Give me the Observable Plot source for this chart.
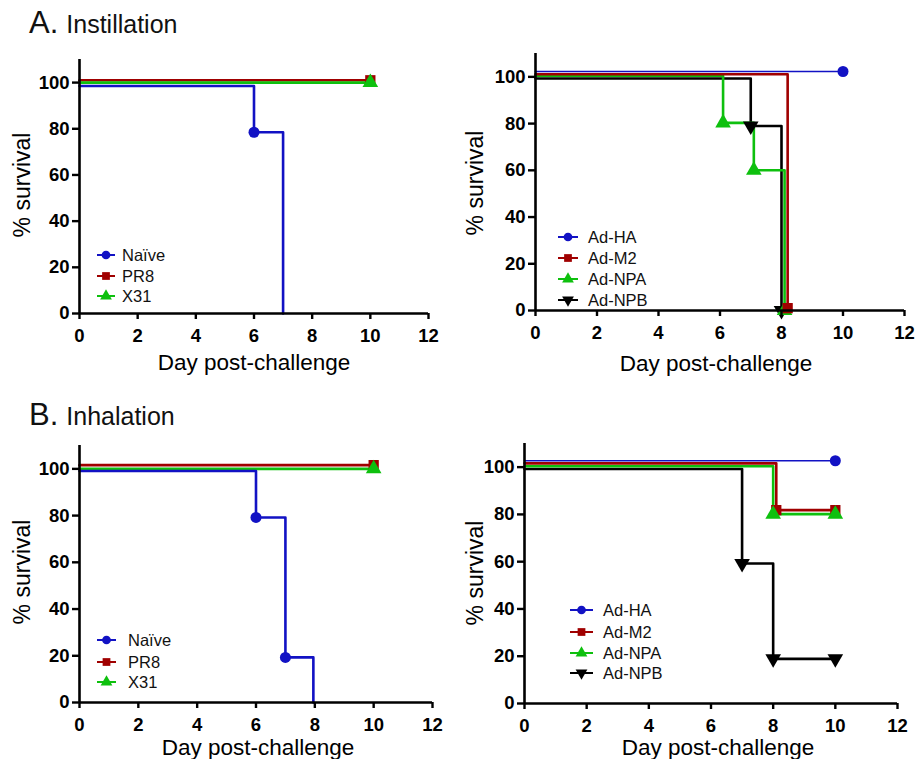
<!DOCTYPE html>
<html>
<head>
<meta charset="utf-8">
<script src="https://cdn.jsdelivr.net/npm/d3@7"></script>
<script src="https://cdn.jsdelivr.net/npm/@observablehq/plot@0.6"></script>
<style>
  html, body { margin: 0; padding: 0; background: #fff; }
  #root { position: relative; width: 919px; height: 759px; overflow: hidden; font-family: "Liberation Sans", Arial, Helvetica, sans-serif; }
  .panel { position: absolute; }
  #overlay { position: absolute; left: 0; top: 0; }
  .panel g[aria-label="x-axis tick"] path, .panel g[aria-label="y-axis tick"] path { stroke-width: 2.4px; }
</style>
</head>
<body>
<div id="root"></div>
<script>
// ---------- tick labels ----------
const xTicks = [0, 2, 4, 6, 8, 10, 12];
const yTicks = [0, 20, 40, 60, 80, 100];

// ---------- colours ----------
const blue = "#1212c4", red = "#a00000", green = "#0ec00e", black = "#000000";

// ---------- A. Instillation, left ----------
const A_left_names = ["Naïve", "PR8", "X31"];
const A_naive_day = [0, 6, 7];
const A_naive_surv = [98.5, 78.5, 0];
const A_naive_mark = [6];
const A_pr8_day = [0, 10];
const A_pr8_surv = [101, 101];
const A_pr8_mark = [10];
const A_x31_day = [0, 10];
const A_x31_surv = [100, 100];
const A_x31_mark = [10];

// ---------- A. Instillation, right ----------
const A_right_names = ["Ad-HA", "Ad-M2", "Ad-NPA", "Ad-NPB"];
const A_ha_day = [0, 10];
const A_ha_surv = [102.3, 102.3];
const A_ha_mark = [10];
const A_m2_day = [0, 8.2];
const A_m2_surv = [101.1, 1];
const A_m2_mark = [8.2];
const A_npa_day = [0, 6.1, 7.1, 8.1];
const A_npa_surv = [100.5, 80.3, 60, 0];
const A_npa_mark = [6.1, 7.1, 8.1];
const A_npb_day = [0, 7, 8];
const A_npb_surv = [99.3, 79, 0];
const A_npb_mark = [7, 8];

// ---------- B. Inhalation, left ----------
const B_naive_day = [0, 6, 7, 7.95];
const B_naive_surv = [99.1, 79.2, 19.3, 0];
const B_naive_mark = [6, 7];
const B_pr8_day = [0, 10];
const B_pr8_surv = [101.6, 101.6];
const B_pr8_mark = [10];
const B_x31_day = [0, 10];
const B_x31_surv = [100, 100];
const B_x31_mark = [10];

// ---------- B. Inhalation, right ----------
const B_ha_day = [0, 10];
const B_ha_surv = [102.7, 102.7];
const B_ha_mark = [10];
const B_m2_day = [0, 8.1, 10];
const B_m2_surv = [101.6, 81.8, 81.8];
const B_m2_mark = [8.1, 10];
const B_npa_day = [0, 8, 10];
const B_npa_surv = [100.4, 80.1, 80.1];
const B_npa_mark = [8, 10];
const B_npb_day = [0, 7, 8, 10];
const B_npb_surv = [99.2, 59.2, 18.9, 18.9];
const B_npb_mark = [7, 8, 10];

// inverted triangle symbol
const triangleDown = {
  draw(context, size) {
    const s3 = Math.sqrt(3);
    const y = -Math.sqrt(size / (s3 * 3));
    context.moveTo(0, -y * 2);
    context.lineTo(-s3 * y, y);
    context.lineTo(s3 * y, y);
    context.closePath();
  }
};

function series(name, day, surv, mark, color, symbol, width) {
  const pts = day.map((d, i) => ({day: d, surv: surv[i]}));
  const marks = pts.filter(p => mark.includes(p.day));
  return {name, pts, marks, color, symbol, width};
}

const panels = [
  {
    left: 0, top: 40, width: 460, height: 340,
    mL: 79, mR: 32, mT: 19, mB: 67,
    series: [
      series(A_left_names[1], A_pr8_day, A_pr8_surv, A_pr8_mark, red, "square", 2.6),
      series(A_left_names[2], A_x31_day, A_x31_surv, A_x31_mark, green, "triangle", 2.6),
      series(A_left_names[0], A_naive_day, A_naive_surv, A_naive_mark, blue, "circle", 2.6)
    ]
  },
  {
    left: 460, top: 40, width: 459, height: 340,
    mL: 75, mR: 15, mT: 13, mB: 70,
    series: [
      series(A_right_names[0], A_ha_day, A_ha_surv, A_ha_mark, blue, "circle", 1.7),
      series(A_right_names[3], A_npb_day, A_npb_surv, A_npb_mark, black, triangleDown, 2.6),
      series(A_right_names[2], A_npa_day, A_npa_surv, A_npa_mark, green, "triangle", 2.6),
      series(A_right_names[1], A_m2_day, A_m2_surv, A_m2_mark, red, "square", 2.6)
    ]
  },
  {
    left: 0, top: 430, width: 460, height: 329,
    mL: 79, mR: 28, mT: 15, mB: 57,
    series: [
      series(A_left_names[1], B_pr8_day, B_pr8_surv, B_pr8_mark, red, "square", 2.6),
      series(A_left_names[2], B_x31_day, B_x31_surv, B_x31_mark, green, "triangle", 2.6),
      series(A_left_names[0], B_naive_day, B_naive_surv, B_naive_mark, blue, "circle", 2.6)
    ]
  },
  {
    left: 460, top: 430, width: 459, height: 329,
    mL: 64, mR: 22, mT: 13, mB: 56,
    series: [
      series(A_right_names[0], B_ha_day, B_ha_surv, B_ha_mark, blue, "circle", 1.7),
      series(A_right_names[3], B_npb_day, B_npb_surv, B_npb_mark, black, triangleDown, 2.6),
      series(A_right_names[1], B_m2_day, B_m2_surv, B_m2_mark, red, "square", 2.6),
      series(A_right_names[2], B_npa_day, B_npa_surv, B_npa_mark, green, "triangle", 2.6)
    ]
  }
];

const root = document.getElementById("root");

for (const p of panels) {
  const marks = [];
  for (const s of p.series) {
    marks.push(Plot.line(s.pts, {x: "day", y: "surv", stroke: s.color, strokeWidth: s.width, curve: "step-after"}));
  }
  for (const s of p.series) {
    marks.push(Plot.dot(s.marks, {x: "day", y: "surv", fill: s.color, symbol: s.symbol, r: s.symbol === "circle" ? 5.5 : 5.8, stroke: "none"}));
  }
  marks.push(Plot.ruleX([0], {stroke: "black", strokeWidth: 2.6}));
  marks.push(Plot.ruleY([0], {stroke: "black", strokeWidth: 2.6}));
  marks.push(Plot.axisX({ticks: xTicks, tickSize: 6, tickPadding: 9, fontSize: 18.5, fontWeight: "bold", label: null, strokeWidth: 2.4}));
  marks.push(Plot.axisY({ticks: yTicks, tickSize: 7, tickPadding: 3, fontSize: 18.5, fontWeight: "bold", label: null, strokeWidth: 2.4}));
  const chart = Plot.plot({
    width: p.width, height: p.height,
    marginLeft: p.mL, marginRight: p.mR, marginTop: p.mT, marginBottom: p.mB,
    x: {domain: [0, 12]},
    y: {domain: [0, 110]},
    style: {fontFamily: "'Liberation Sans', Arial, Helvetica, sans-serif", color: "black", background: "transparent", overflow: "visible"},
    marks
  });
  chart.classList.add("panel");
  chart.style.left = p.left + "px";
  chart.style.top = p.top + "px";
  root.appendChild(chart);
}

// ---------- overlay: titles, axis labels, legends ----------
const ov = d3.select(root).append("svg").attr("id", "overlay").attr("width", 919).attr("height", 759)
  .style("font-family", "'Liberation Sans', Arial, Helvetica, sans-serif");

function title(x, y, letter, text) {
  const t = ov.append("text").attr("x", x).attr("y", y).attr("fill", "#111");
  t.append("tspan").attr("font-size", 31).text(letter);
  t.append("tspan").attr("font-size", 25).attr("dx", 8).text(text);
}
title(29, 33, "A.", "Instillation");
title(29, 425, "B.", "Inhalation");

const xLabel = "Day post-challenge", yLabel = "% survival";
function xlab(cx, cy) {
  ov.append("text").attr("x", cx).attr("y", cy).attr("dy", "0.35em").attr("text-anchor", "middle")
    .attr("font-size", 22.5).text(xLabel);
}
function ylab(cx, cy) {
  ov.append("text").attr("transform", `translate(${cx},${cy}) rotate(-90)`).attr("dy", "0.35em")
    .attr("text-anchor", "middle").attr("font-size", 23).text(yLabel);
}
xlab(254, 362); xlab(716, 363); xlab(258, 747); xlab(718, 747);
ylab(22, 185); ylab(475, 183); ylab(22, 572); ylab(475, 573);

function legend(x0, x1, tx, ys, items) {
  items.forEach((s, i) => {
    const y = ys[i];
    ov.append("line").attr("x1", x0).attr("x2", x1).attr("y1", y).attr("y2", y)
      .attr("stroke", s.color).attr("stroke-width", 2);
    const sym = typeof s.symbol === "string"
      ? {circle: d3.symbolCircle, square: d3.symbolSquare, triangle: d3.symbolTriangle}[s.symbol]
      : s.symbol;
    ov.append("path").attr("transform", `translate(${(x0 + x1) / 2},${y})`)
      .attr("d", d3.symbol(sym, 60)()).attr("fill", s.color);
    ov.append("text").attr("x", tx).attr("y", y).attr("dy", "0.35em").attr("font-size", 16.5)
      .attr("fill", "#111").text(s.name);
  });
}
const legL = [
  {name: A_left_names[0], color: blue, symbol: "circle"},
  {name: A_left_names[1], color: red, symbol: "square"},
  {name: A_left_names[2], color: green, symbol: "triangle"}
];
const legR = [
  {name: A_right_names[0], color: blue, symbol: "circle"},
  {name: A_right_names[1], color: red, symbol: "square"},
  {name: A_right_names[2], color: green, symbol: "triangle"},
  {name: A_right_names[3], color: black, symbol: triangleDown}
];
legend(97, 115, 122, [255, 276, 296], legL);
legend(558, 578, 588, [237, 258, 279, 300], legR);
legend(97, 116, 128, [640, 662, 682], legL);
legend(570, 593, 603, [610, 632, 653, 673], legR);
</script>
</body>
</html>
